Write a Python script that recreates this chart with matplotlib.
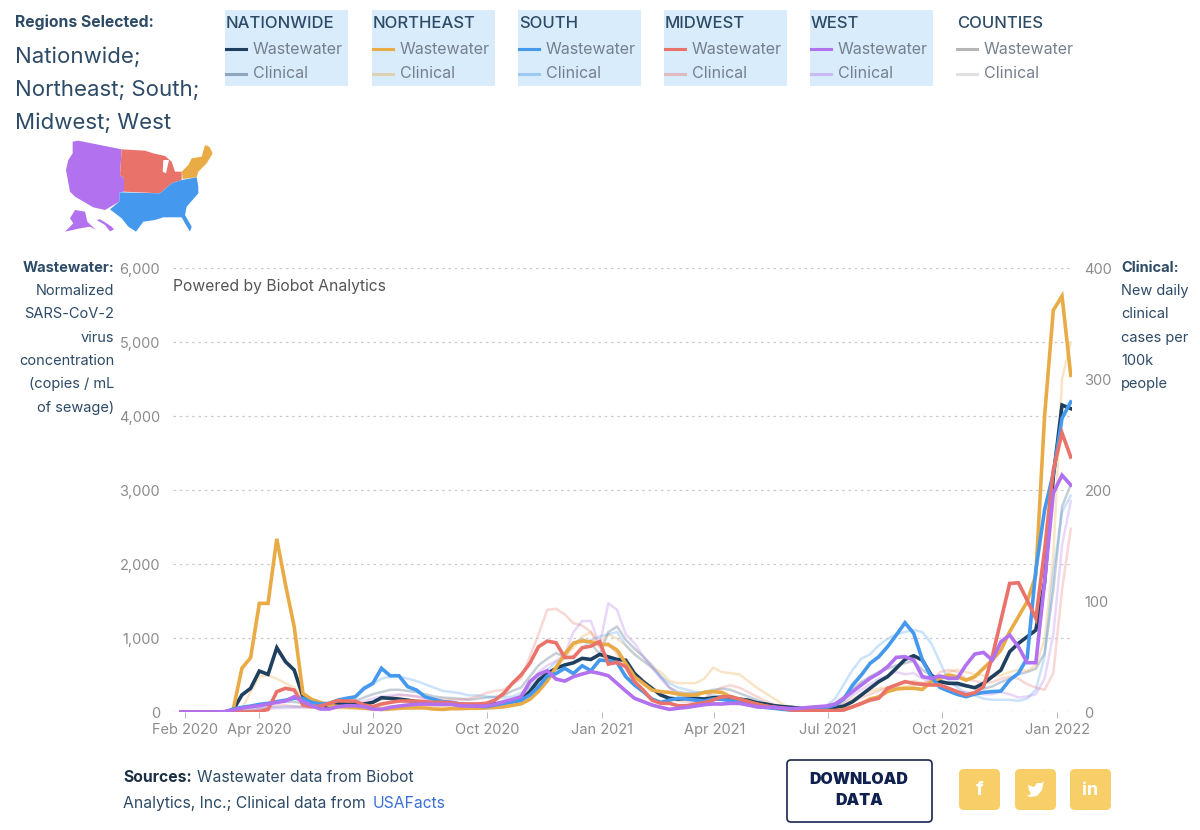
import pandas as pd
import matplotlib
matplotlib.use("Agg")
import matplotlib.pyplot as plt
import matplotlib.dates as mdates
from matplotlib.patches import Polygon, Rectangle, FancyBboxPatch

plt.rcParams['font.family'] = ['Inter', 'DejaVu Sans']

# weekly samples, wastewater in copies/mL, clinical in new cases per 100k
dates = pd.date_range('2020-01-29', periods=103, freq='7D')

ww_national = [0,0,0,0,0,0,27,230,320,553,
    508,868,680,567,207,160,108,63,108,108,
    108,108,130,193,185,175,160,140,130,117,
    117,108,95,85,80,80,108,125,140,160,
    275,430,520,590,635,665,725,710,778,745,
    710,700,520,410,320,230,185,175,185,185,
    175,193,198,193,175,160,125,108,85,72,
    63,50,40,50,50,58,80,140,230,320,
    410,477,590,710,760,700,500,410,387,387,
    355,328,387,477,567,815,927,1017,1107,1750,
    3180,4148,4450]
ww_national[-1] = 4100
ww_national[-3:] = [3180, 4148, 4450] + [] if False else ww_national[-3:]
ww_northeast = [0,0,0,0,0,0,30,590,734,1468,
    1468,2340,1720,1150,250,170,130,90,75,70,
    60,50,40,35,40,50,55,55,55,40,
    35,45,45,50,50,55,60,70,90,110,
    170,280,420,600,780,930,960,950,918,910,
    837,657,477,387,297,275,265,243,230,230,
    265,275,265,207,175,140,108,80,63,45,
    27,25,25,22,18,18,35,70,115,175,
    205,275,310,320,320,305,410,455,500,477,
    430,477,590,700,837,1085,1287,1490,1850,4000,
    5430,5620,4550]
ww_south = [0,0,0,0,0,0,40,63,80,103,
    117,140,160,185,185,130,108,117,160,185,
    205,320,387,590,490,490,342,297,205,171,
    140,130,108,95,80,72,95,117,140,160,
    230,342,486,520,590,520,625,558,702,693,
    670,477,365,275,175,130,160,185,175,160,
    148,175,171,153,130,103,72,63,50,36,
    27,27,36,50,63,95,175,365,500,657,
    747,882,1040,1206,1062,702,477,333,283,238,
    207,243,265,275,283,432,522,725,1920,2730,
    3225,3970,4190]
ww_midwest = [0,0,0,0,0,0,0,0,0,5,
    35,275,320,297,95,72,80,117,153,148,
    148,95,72,108,130,148,148,148,140,130,
    130,125,108,108,108,117,160,250,387,500,
    657,882,958,936,738,738,868,890,950,648,
    670,612,410,297,160,117,117,85,85,108,
    125,160,205,207,175,140,103,80,63,50,
    27,18,18,18,18,18,27,70,115,160,
    185,320,365,410,387,373,365,365,320,275,
    230,261,342,747,1242,1737,1746,1512,1264,2187,
    3270,3770,3445]
ww_west = [0,0,0,0,0,5,27,50,72,85,
    108,130,148,207,140,85,40,40,72,85,
    85,72,40,36,63,80,95,103,108,103,
    103,103,85,80,80,80,103,140,171,207,
    410,508,558,445,418,477,513,545,522,490,
    387,283,185,140,95,63,36,50,63,80,
    99,108,108,117,117,95,72,63,63,54,
    45,50,63,72,80,108,185,275,365,455,
    522,612,738,747,702,477,455,486,455,455,
    635,783,805,702,950,1040,882,666,666,1750,
    2958,3200,3066]

cl_national = [0,0,0,0,0,0,0,0.5,3,6,
    8,9,9.5,9,8,7,6.5,6.5,7,8,
    10,13,16,18,20,20,19,18,16,14,
    13,12.5,12,11,12,13,13.5,15,19,22,
    32,42,48,53,50,62,66,62,52,72,
    77,65,57,50,42,32,22,18,17,17,
    18,20,21,20,17,14,11,8,6,4.5,
    3.5,3,3.5,4,5,8,14,21,27,32,
    36,39,42,44,46,38,33,29,26,24,
    23,22,21,23,27,30,34,36,39,53,
    110,185,205]
cl_northeast = [0,0,0,0,0,0,0,3,18,32,
    33,30,26,22,14,9,6,4,3.5,3,
    3,3.5,4,4.5,5,5,5,5,5,5,
    5,5,5.5,6,6.5,7,8,9,11,14,
    20,26,32,40,50,58,68,72,62,70,
    66,60,52,46,40,36,28,26,26,26,
    30,40,36,35,34,28,22,17,12,7,
    4,3,2.5,2.5,3,4,8,12,16,19,
    21,22,22,23,24,26,27,30,36,38,
    36,34,33,32,33,36,38,37,42,65,
    140,300,333]
cl_south = [0,0,0,0,0,0,0,0,1,3,
    4,4.5,5,5,5,5.5,6,7,9,11,
    14,20,25,30,32,32,30,28,25,22,
    19,18,17,15,15,14,13.5,13,14,17,
    22,30,38,45,48,50,57,65,68,70,
    72,60,52,46,40,32,26,22,20,18,
    17,15,14,14,12,11,9,7,5,4,
    3,3,3.5,4.5,6,12,25,38,48,52,
    60,66,70,72,74,72,62,45,28,22,
    17,15,12,11,11,11,10,12,20,50,
    125,180,195]
cl_midwest = [0,0,0,0,0,0,0,0,1,3,
    5,6,6,5,4.5,4,3.5,3.5,4,4.5,
    6,7,9,11,13,15,15,14,13,12,
    11,11,11,12,14,17,19,20,25,30,
    50,70,92,93,88,80,78,72,58,62,
    52,42,35,28,22,16,12,10,9,9,
    12,18,22,24,22,18,14,10,7,5,
    3,2.5,2.5,3,3,4,6,9,13,16,
    19,22,25,26,28,26,28,36,38,36,
    30,28,26,27,30,32,30,25,22,20,
    35,110,165]
cl_west = [0,0,0,0,0,0,0,0,1,2.5,
    3,3.5,3.5,4,4,4,4,4.5,5,6,
    8,10,12,14,15,16,15,14,12,11,
    10,9,8,8,8,8,8,9,11,13,
    24,36,42,46,52,72,82,82,60,98,
    92,70,62,50,40,30,22,16,12,10,
    9,8,8,8,7,7,6,5,4,3.5,
    3,3,3,3.5,4,5,9,15,20,25,
    30,33,36,34,35,30,27,24,20,18,
    18,17,16,16,18,16,13,14,16,30,
    70,150,190]

region_names = ['NATIONWIDE', 'NORTHEAST', 'SOUTH', 'MIDWEST', 'WEST', 'COUNTIES']
ww_ticks = [0, 1000, 2000, 3000, 4000, 5000, 6000]
cl_ticks = [0, 100, 200, 300, 400]
x_ticks = ['2020-02-01', '2020-04-01', '2020-07-01', '2020-10-01', '2021-01-01',
           '2021-04-01', '2021-07-01', '2021-10-01', '2022-01-01']
x_labels = ['Feb 2020', 'Apr 2020', 'Jul 2020', 'Oct 2020', 'Jan 2021',
            'Apr 2021', 'Jul 2021', 'Oct 2021', 'Jan 2022']

NAVY = '#1f3f5f'
ORANGE = '#e9ab45'
BLUE = '#4499ee'
RED = '#e9736b'
PURPLE = '#b271ee'
TEXT = '#2d4a66'
GREY = '#8c8c8c'

fig = plt.figure(figsize=(12, 8.3), dpi=100)

# page layer in pixel coords for everything that is not the chart
page = fig.add_axes([0, 0, 1, 1])
page.set_xlim(0, 1200)
page.set_ylim(830, 0)
page.axis('off')

# main chart
ax = fig.add_axes([172.7 / 1200, 1 - 712 / 830, 899.3 / 1200, 444 / 830])
ax.patch.set_alpha(0)
ax.set_ylim(0, 6000)
ax.set_xlim(mdates.date2num(pd.Timestamp('2020-02-01')) - 9.5,
            mdates.date2num(pd.Timestamp('2022-01-01')) + 12)
ax2 = ax.twinx()
ax2.set_ylim(0, 400)
ax2.patch.set_alpha(0)

for a in (ax, ax2):
    for s in a.spines.values():
        s.set_visible(False)

ax.set_yticks(ww_ticks)
ax.set_yticklabels([f'{v:,}' for v in ww_ticks])
ax.tick_params(axis='y', length=0, pad=9, labelsize=10.5, labelcolor=GREY)
ax.grid(axis='y', color='#c9c9c9', lw=0.9, ls=(0, (2, 3)))
ax.set_axisbelow(True)
ax.set_xticks([mdates.date2num(pd.Timestamp(d)) for d in x_ticks])
ax.set_xticklabels(x_labels)
ax.tick_params(axis='x', length=4, width=0.7, color='#bbbbbb', pad=4, labelsize=10.5, labelcolor=GREY)
ax2.set_yticks(cl_ticks)
ax2.tick_params(axis='y', length=0, pad=9, labelsize=10.5, labelcolor=GREY)

clinical = [(cl_national, '#5a7590', 0.35), (cl_northeast, ORANGE, 0.3), (cl_south, BLUE, 0.28),
            (cl_midwest, RED, 0.28), (cl_west, PURPLE, 0.28)]
for vals, col, al in clinical:
    ax2.plot(dates, vals, color=col, alpha=al, lw=1.8, solid_joinstyle='round')

ax2.set_zorder(ax.get_zorder() - 1)
ax.patch.set_visible(False)
wastewater = [(ww_national, NAVY), (ww_northeast, ORANGE), (ww_south, BLUE),
              (ww_midwest, RED), (ww_west, PURPLE)]
ax_lines = [ww_national, ww_northeast, ww_south, ww_midwest, ww_west]
ax.plot(dates, ww_national, color=NAVY, lw=2.6, solid_joinstyle='miter')
ax.plot(dates, ww_northeast, color=ORANGE, lw=2.6, solid_joinstyle='miter')
ax.plot(dates, ww_south, color=BLUE, lw=2.6, solid_joinstyle='miter')
ax.plot(dates, ww_midwest, color=RED, lw=2.6, solid_joinstyle='miter')
ax.plot(dates, ww_west, color=PURPLE, lw=2.6, solid_joinstyle='miter')

ax.text(0, 0.9575, 'Powered by Biobot Analytics', transform=ax.transAxes, color='#555555',
        fontsize=11.3, va='center', ha='left')

# axis captions
page.text(114, 268, 'Wastewater:', ha='right', va='center', fontsize=10.5, fontweight='bold', color=TEXT)
for y, s in zip([291, 314, 338, 361, 384, 408],
                ['Normalized', 'SARS-CoV-2', 'virus', 'concentration', '(copies / mL', 'of sewage)']):
    page.text(114, y, s, ha='right', va='center', fontsize=10.5, color=TEXT)
page.text(1121, 268, 'Clinical:', ha='left', va='center', fontsize=10.5, fontweight='bold', color=TEXT)
for y, s in zip([291, 314, 338, 361, 384], ['New daily', 'clinical', 'cases per', '100k', 'people']):
    page.text(1121, y, s, ha='left', va='center', fontsize=10.5, color=TEXT)

# selection panel
page.text(15, 22, 'Regions Selected:', va='center', fontsize=11.3, fontweight='bold', color=TEXT)
for y, s in zip([57, 90, 123], ['Nationwide;', 'Northeast; South;', 'Midwest; West']):
    page.text(15, y, s, va='center', fontsize=16, color=TEXT)

# legend blocks
box_x = [225, 372, 518, 664, 810, 956]
leg_cols = [NAVY, ORANGE, BLUE, RED, PURPLE, '#b5b5b5']
for i, name in enumerate(region_names):
    x = box_x[i]
    if name != 'COUNTIES':
        page.add_patch(Rectangle((x, 10), 123, 76, fc='#d8ecfb', ec='none'))
    page.text(x + 1, 23, name, va='center', fontsize=12, fontweight='medium', color=TEXT)
    page.plot([x + 1, x + 21], [49, 49], color=leg_cols[i], lw=2.2)
    page.plot([x + 1, x + 21], [74, 74], color=leg_cols[i], lw=2.2, alpha=0.4)
    page.text(x + 28, 49, 'Wastewater', va='center', fontsize=11.5, color='#76808c')
    page.text(x + 28, 74, 'Clinical', va='center', fontsize=11.5, color='#76808c')

# small map of the regions
def zm(points):
    return [(50 + px / 3, 130 + py / 3) for px, py in points]

west = [(68, 35), (85, 32), (215, 58), (210, 135), (222, 145), (222, 185), (208, 187), (208, 215),
        (165, 240), (130, 232), (75, 200), (60, 185), (48, 120), (55, 90), (68, 70)]
midwest = [(215, 58), (285, 62), (310, 70), (345, 78), (365, 95), (375, 125), (395, 125), (395, 150),
           (365, 160), (330, 190), (222, 185), (222, 145), (210, 135)]
northeast = [(465, 45), (478, 50), (488, 70), (470, 100), (445, 125), (440, 142), (398, 147), (395, 125),
             (415, 105), (425, 85), (455, 80)]
south = [(208, 187), (330, 190), (365, 160), (395, 150), (440, 142), (445, 170), (445, 190), (410, 230),
         (405, 255), (425, 290), (420, 305), (405, 280), (395, 262), (340, 262), (315, 270), (280, 275),
         (258, 305), (235, 290), (215, 265), (180, 238), (208, 215)]
alaska = [(75, 240), (105, 245), (112, 275), (138, 300), (120, 290), (90, 295), (45, 305), (70, 280), (60, 265)]
hawaii = [(140, 270), (150, 268), (165, 277), (185, 290), (192, 298), (180, 304), (165, 285)]
lake = [(340, 90), (357, 90), (348, 130), (338, 125)]
for pts, col in [(west, PURPLE), (midwest, RED), (northeast, ORANGE), (south, BLUE), (alaska, PURPLE),
                 (hawaii, PURPLE), (lake, 'white')]:
    page.add_patch(Polygon(zm(pts), closed=True, fc=col, ec='none'))

# footer
page.text(123, 777, 'Sources:', va='center', fontsize=11.3, fontweight='bold', color='#1c2f44')
page.text(197, 777, 'Wastewater data from Biobot', va='center', fontsize=11.3, color=TEXT)
page.text(123, 803, 'Analytics, Inc.; Clinical data from', va='center', fontsize=11.3, color=TEXT)
page.text(373, 803, 'USAFacts', va='center', fontsize=11.3, color='#3a6fd8')

page.add_patch(FancyBboxPatch((789, 762), 141, 58, boxstyle='round,pad=2,rounding_size=4',
                              fc='white', ec='#1a2550', lw=1.2))
page.text(859, 779, 'DOWNLOAD', ha='center', va='center', fontsize=11.5, fontweight='black', color='#10204f')
page.text(859, 800, 'DATA', ha='center', va='center', fontsize=11.5, fontweight='black', color='#10204f')

for x in [961, 1017, 1072]:
    page.add_patch(FancyBboxPatch((x, 771), 37, 37, boxstyle='round,pad=2,rounding_size=5',
                                  fc='#f7ce68', ec='none'))
page.text(979.5, 790, 'f', ha='center', va='center', fontsize=14, fontweight='bold', color='white')
page.text(1090.5, 790, 'in', ha='center', va='center', fontsize=13, fontweight='bold', color='white')
bird = [(1028, 785), (1034, 787), (1037, 783), (1042, 783), (1044, 781), (1043, 785), (1042, 790),
        (1037, 796), (1030, 797), (1027, 796), (1031, 794), (1029, 790)]
page.add_patch(Polygon(bird, closed=True, fc='white', ec='none'))

fig.savefig('out.png', dpi=100)
